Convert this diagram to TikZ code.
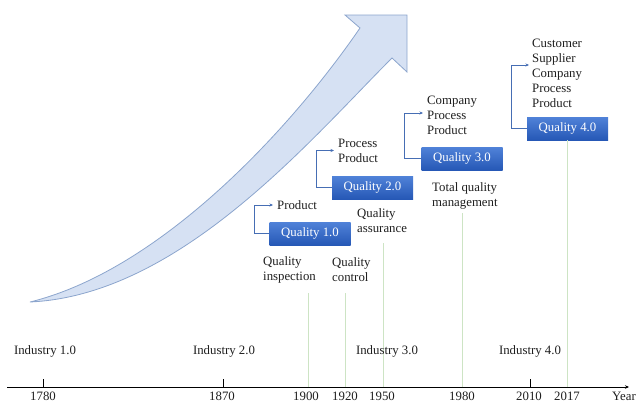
\documentclass[tikz,border=0pt]{standalone}
\usepackage{fontspec}
\setmainfont{Liberation Serif}
\usetikzlibrary{arrows.meta,calc}
\definecolor{arrowfill}{RGB}{214,225,243}
\definecolor{arrowline}{RGB}{140,165,205}
\definecolor{qtop}{RGB}{80,130,216}
\definecolor{qbot}{RGB}{38,88,182}
\definecolor{bracketc}{RGB}{70,110,180}
\definecolor{gridgreen}{RGB}{205,228,196}
\definecolor{txt}{RGB}{30,30,30}
\begin{document}
\begin{tikzpicture}[x=1pt,y=-1pt,
  lbl/.style={font=\fontsize{12.8}{15}\selectfont, inner sep=0pt, align=left, text=txt},
  qbox/.style={minimum width=81pt, minimum height=23pt, inner sep=0pt, top color=qtop, bottom color=qbot, text=white, font=\fontsize{12.8}{15}\selectfont},
  bracket/.style={draw=bracketc, line width=0.8pt, -{Stealth[length=3.5pt,width=3pt]}},
  gline/.style={draw=gridgreen, line width=1pt},
  tick/.style={draw=black, line width=0.8pt},
  axis/.style={draw=black, line width=0.9pt, -{Stealth[length=4pt,width=3.5pt]}}]
\useasboundingbox (0,0) rectangle (639,402);

% big arrow
\path[fill=arrowfill, draw=arrowline, line width=0.8pt, line join=miter]
 (30,302) .. controls (160,270) and (290,130) .. (360,28)
 -- (345,15) -- (407,15) -- (407,72) -- (392,58)
 .. controls (310,140) and (180,295) .. (30,302) -- cycle;

% quality boxes
\node[qbox] (q1) at (310,233.5) {Quality 1.0};
\node[qbox] (q2) at (372.5,187.5) {Quality 2.0};
\node[qbox] (q3) at (462,158.5) {Quality 3.0};
\node[qbox] (q4) at (567.5,128.5) {Quality 4.0};

% texts above
\node[lbl, anchor=west] (t1) at (277,205) {Product};
\node[lbl, anchor=west] (t2) at (338,150.5) {Process\\Product};
\node[lbl, anchor=west] (t3) at (427,115) {Company\\Process\\Product};
\node[lbl, anchor=west] (t4) at (532,73) {Customer\\Supplier\\Company\\Process\\Product};

% brackets
\draw[bracket] (q1.west) -- ++(-15,0) |- ([xshift=-4pt]t1.west);
\draw[bracket] (q2.west) -- ++(-15,0) |- ([xshift=-4pt]t2.west);
\draw[bracket] (q3.west) -- ++(-17,0) |- ([xshift=-4pt,yshift=2pt]t3.west);
\draw[bracket] (q4.west) -- ++(-15,0) |- ([xshift=-3pt,yshift=8pt]t4.west);

% texts below
\node[lbl, anchor=west] (qi) at (263,270) {Quality\\inspection};
\node[lbl, anchor=west] (qc) at (332,270) {Quality\\control};
\node[lbl, anchor=west] (qa) at (357,221) {Quality\\assurance};
\node[lbl, anchor=west] (tq) at (432,195.5) {Total quality\\management};

% axis
\coordinate (ax0) at (7,387);
\coordinate (ax1) at (629,387);
\draw[axis] (ax0) -- (ax1);

\coordinate (a1780) at (43,387);
\coordinate (a1870) at (223,387);
\coordinate (a1900) at (308,387);
\coordinate (a1920) at (345,387);
\coordinate (a1950) at (383,387);
\coordinate (a1980) at (462,387);
\coordinate (a2010) at (530,387);
\coordinate (a2017) at (567.5,387);

% green lines
\draw[gline] (a1900) -- (308,293);
\draw[gline] (a1920) -- (345,293);
\draw[gline] (a1950) -- (383,243);
\draw[gline] (a1980) -- (462,213);
\draw[gline] (a2017) -- (q4.south);

% ticks
\draw[tick] (a1780) -- ++(0,-8);
\draw[tick] (a1870) -- ++(0,-8);
\draw[tick] (a2010) -- ++(0,-8);

% year labels
\node[lbl, anchor=base] (l1780) at (43,400) {1780};
\node[lbl, anchor=base] (l1870) at (222,400) {1870};
\node[lbl, anchor=base] (l1900) at (306,400) {1900};
\node[lbl, anchor=base] (l1920) at (345,400) {1920};
\node[lbl, anchor=base] (l1950) at (382,400) {1950};
\node[lbl, anchor=base] (l1980) at (462,400) {1980};
\node[lbl, anchor=base] (l2010) at (529,400) {2010};
\node[lbl, anchor=base] (l2017) at (567,400) {2017};
\node[lbl, anchor=base west] (lyear) at (612,400) {Year};

% industry labels
\node[lbl] (i1) at (45,351) {Industry 1.0};
\node[lbl] (i2) at (224,351) {Industry 2.0};
\node[lbl] (i3) at (387,351) {Industry 3.0};
\node[lbl] (i4) at (530,351) {Industry 4.0};
\end{tikzpicture}
\end{document}
